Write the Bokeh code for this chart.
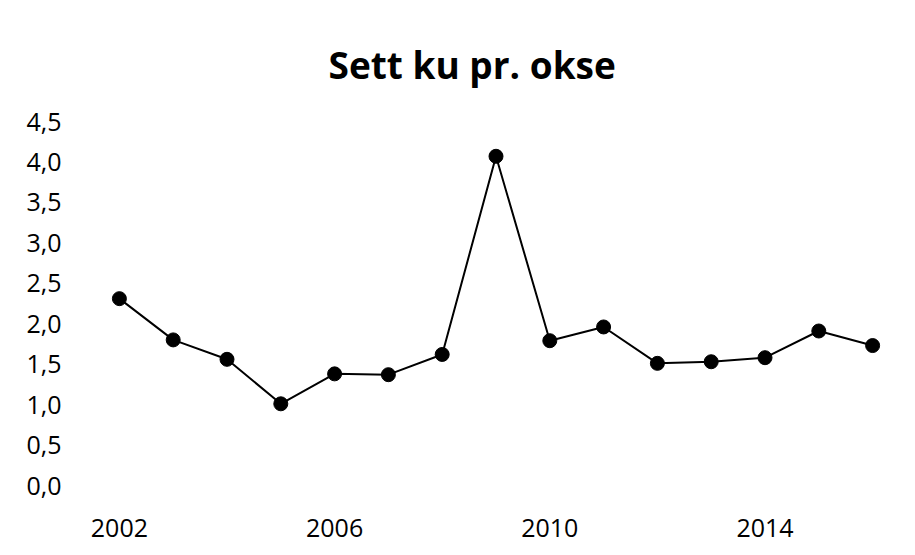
from bokeh.plotting import figure
from bokeh.models import FixedTicker, CustomJSTickFormatter, Range1d, ColumnDataSource
from bokeh.embed import file_html
from bokeh.resources import INLINE

years = [2002, 2003, 2004, 2005, 2006, 2007, 2008, 2009, 2010, 2011, 2012, 2013, 2014, 2015, 2016]
values = [2.31, 1.80, 1.56, 1.01, 1.38, 1.37, 1.62, 4.07, 1.79, 1.96, 1.51, 1.53, 1.58, 1.91, 1.73]
x_ticks = [2002, 2006, 2010, 2014]
y_ticks = [0, 0.5, 1.0, 1.5, 2.0, 2.5, 3.0, 3.5, 4.0, 4.5]
title_text = "Sett ku pr. okse"

src = ColumnDataSource(dict(year=years, value=values))

p = figure(width=905, height=553, output_backend="svg", toolbar_location=None,
           x_range=Range1d(years[0] - 0.5, years[-1] + 0.5),
           y_range=Range1d(0, 4.5),
           min_border_left=92, min_border_right=6, min_border_top=121, min_border_bottom=68)

p.title.text = title_text
p.title.text_font = "Open Sans"
p.title.text_font_size = "37px"
p.title.text_font_style = "bold"
p.title.align = "left"
p.title.text_color = "black"
p.title.offset = 236
p.title.standoff = 64
p.title.text_line_height = 0.8

p.line("year", "value", source=src, line_color="black", line_width=2)
p.scatter("year", "value", source=src, size=14, fill_color="black", line_color="black")

p.xgrid.visible = False
p.ygrid.visible = False
p.outline_line_color = None

for ax in (p.xaxis[0], p.yaxis[0]):
    ax.axis_line_color = None
    ax.major_tick_line_color = None
    ax.minor_tick_line_color = None
    ax.major_label_text_font = "Open Sans"
    ax.major_label_text_font_size = "25px"
    ax.major_label_text_color = "black"

p.xaxis[0].ticker = FixedTicker(ticks=x_ticks)
p.xaxis[0].major_label_standoff = 27
p.yaxis[0].ticker = FixedTicker(ticks=y_ticks)
p.yaxis[0].formatter = CustomJSTickFormatter(code="return tick.toFixed(1).replace('.', ',');")
p.yaxis[0].major_label_standoff = 25

open("out.html", "w").write(file_html(p, INLINE))
